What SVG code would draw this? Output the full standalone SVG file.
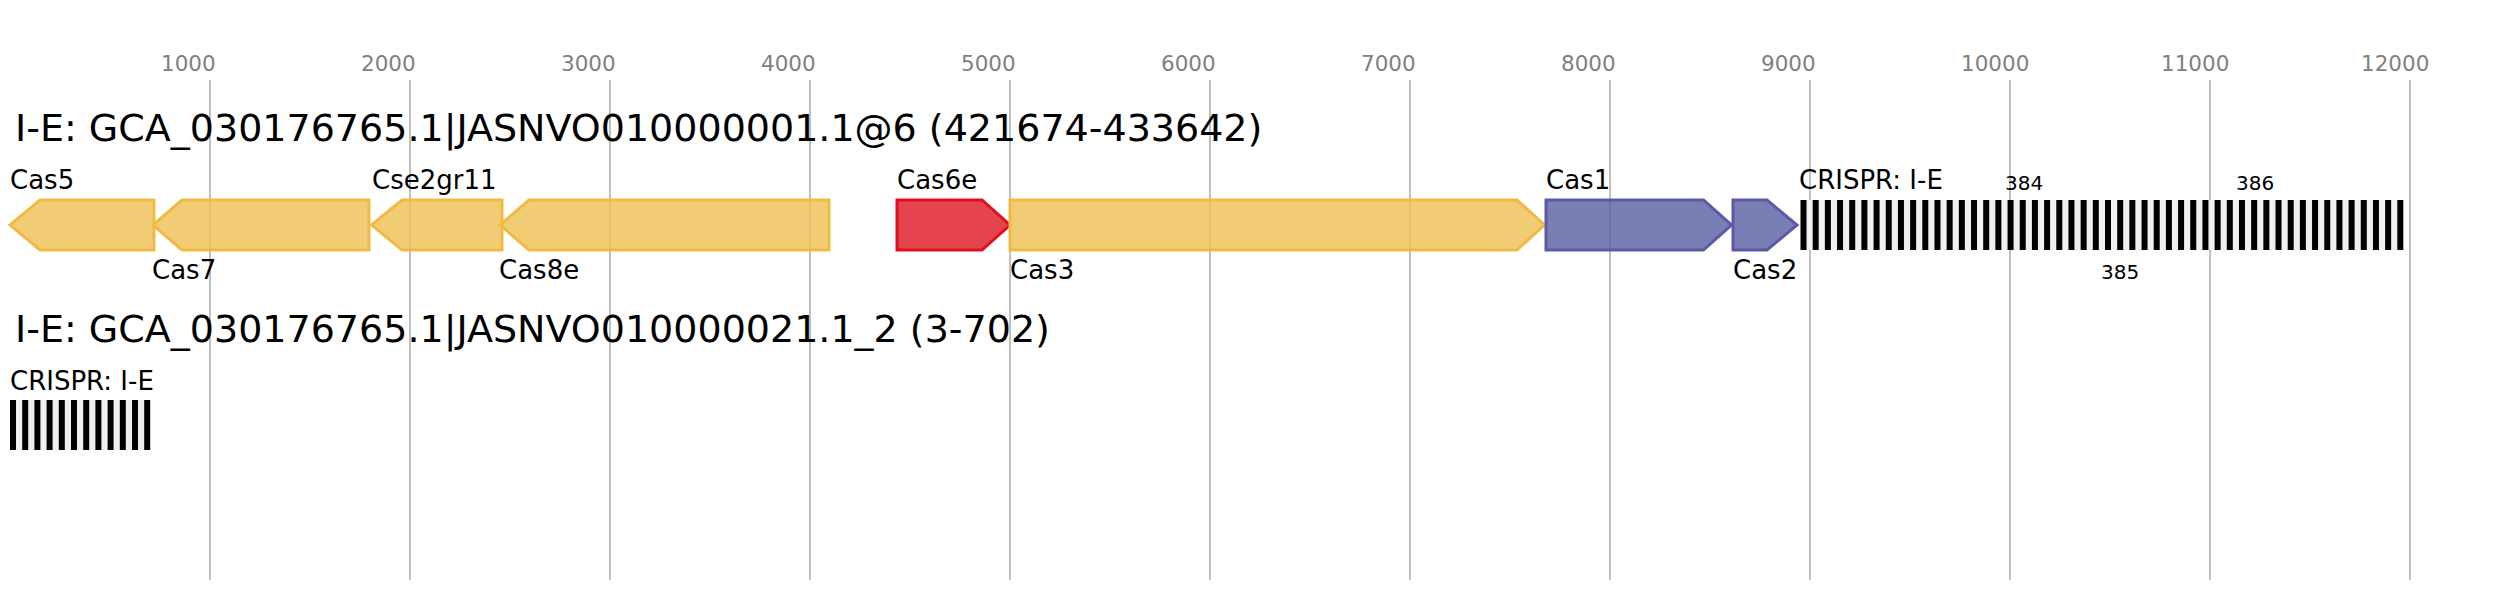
<svg xmlns="http://www.w3.org/2000/svg" width="2494" height="600" viewBox="0 0 2494 600">
<style>
text{font-family:"DejaVu Sans","Liberation Sans",sans-serif;fill:#000}
.tick{font-size:21.5px;fill:#808080}
.title{font-size:38px}
.lbl{font-size:26px}
.num{font-size:20px}
.grid{stroke:#c0c0c0;stroke-width:2}
.y{fill:#EEBF52;fill-opacity:0.8;stroke:#EEBB45;stroke-width:3}
.r{fill:#DF1523;fill-opacity:0.8;stroke:#E0101E;stroke-width:3}
.b{fill:#5A5CA2;fill-opacity:0.8;stroke:#5A5AA5;stroke-width:3}
.sp{fill:#f0f0f0}
.rp{fill:#000}
</style>
<rect width="2494" height="600" fill="#fff"/>
<g id="axis">
<g class="grid">
<line x1="210" y1="80" x2="210" y2="580"/>
<line x1="410" y1="80" x2="410" y2="580"/>
<line x1="610" y1="80" x2="610" y2="580"/>
<line x1="810" y1="80" x2="810" y2="580"/>
<line x1="1010" y1="80" x2="1010" y2="580"/>
<line x1="1210" y1="80" x2="1210" y2="580"/>
<line x1="1410" y1="80" x2="1410" y2="580"/>
<line x1="1610" y1="80" x2="1610" y2="580"/>
<line x1="1810" y1="80" x2="1810" y2="580"/>
<line x1="2010" y1="80" x2="2010" y2="580"/>
<line x1="2210" y1="80" x2="2210" y2="580"/>
<line x1="2410" y1="80" x2="2410" y2="580"/>
</g>
<text class="tick" x="161" y="70.5">1000</text>
<text class="tick" x="361" y="70.5">2000</text>
<text class="tick" x="561" y="70.5">3000</text>
<text class="tick" x="761" y="70.5">4000</text>
<text class="tick" x="961" y="70.5">5000</text>
<text class="tick" x="1161" y="70.5">6000</text>
<text class="tick" x="1361" y="70.5">7000</text>
<text class="tick" x="1561" y="70.5">8000</text>
<text class="tick" x="1761" y="70.5">9000</text>
<text class="tick" x="1961" y="70.5">10000</text>
<text class="tick" x="2161" y="70.5">11000</text>
<text class="tick" x="2361" y="70.5">12000</text>
</g>
<text id="title1" class="title" x="15" y="140.5">I-E: GCA_030176765.1|JASNVO010000001.1@6 (421674-433642)</text>
<text id="title2" class="title" x="15" y="341.5">I-E: GCA_030176765.1|JASNVO010000021.1_2 (3-702)</text>
<g id="cas5"><polygon class="y" points="10,225 40,200 154,200 154,250 40,250"/><text class="lbl" x="10" y="189">Cas5</text></g>
<g id="cas7"><polygon class="y" points="153,225 182,200 369,200 369,250 182,250"/><text class="lbl" x="152" y="279">Cas7</text></g>
<g id="cse2gr11"><polygon class="y" points="371.5,225 402,200 502,200 502,250 402,250"/><text class="lbl" x="372" y="189">Cse2gr11</text></g>
<g id="cas8e"><polygon class="y" points="500,225 529,200 829,200 829,250 529,250"/><text class="lbl" x="499" y="279">Cas8e</text></g>
<g id="cas6e"><polygon class="r" points="897,200 982,200 1010,225 982,250 897,250"/><text class="lbl" x="897" y="189">Cas6e</text></g>
<g id="cas3"><polygon class="y" points="1010,200 1517,200 1544.5,225 1517,250 1010,250"/><text class="lbl" x="1010" y="279">Cas3</text></g>
<g id="cas1"><polygon class="b" points="1546,200 1703.5,200 1731.5,225 1703.5,250 1546,250"/><text class="lbl" x="1546" y="189">Cas1</text></g>
<g id="cas2"><polygon class="b" points="1733,200 1767,200 1797,225 1767,250 1733,250"/><text class="lbl" x="1733" y="279">Cas2</text></g>
<g id="crispr1">
<text class="lbl" x="1799" y="189">CRISPR: I-E</text>
<rect class="sp" x="1800.5" y="200" width="602.8" height="50"/>
<g class="rp">
<rect x="1800.5" y="200" width="6" height="50"/><rect x="1812.68" y="200" width="6" height="50"/><rect x="1824.86" y="200" width="6" height="50"/><rect x="1837.04" y="200" width="6" height="50"/><rect x="1849.22" y="200" width="6" height="50"/>
<rect x="1861.4" y="200" width="6" height="50"/><rect x="1873.58" y="200" width="6" height="50"/><rect x="1885.76" y="200" width="6" height="50"/><rect x="1897.94" y="200" width="6" height="50"/><rect x="1910.12" y="200" width="6" height="50"/>
<rect x="1922.3" y="200" width="6" height="50"/><rect x="1934.48" y="200" width="6" height="50"/><rect x="1946.66" y="200" width="6" height="50"/><rect x="1958.84" y="200" width="6" height="50"/><rect x="1971.02" y="200" width="6" height="50"/>
<rect x="1983.2" y="200" width="6" height="50"/><rect x="1995.38" y="200" width="6" height="50"/><rect x="2007.56" y="200" width="6" height="50"/><rect x="2019.74" y="200" width="6" height="50"/><rect x="2031.92" y="200" width="6" height="50"/>
<rect x="2044.1" y="200" width="6" height="50"/><rect x="2056.28" y="200" width="6" height="50"/><rect x="2068.46" y="200" width="6" height="50"/><rect x="2080.64" y="200" width="6" height="50"/><rect x="2092.82" y="200" width="6" height="50"/>
<rect x="2105" y="200" width="6" height="50"/><rect x="2117.18" y="200" width="6" height="50"/><rect x="2129.36" y="200" width="6" height="50"/><rect x="2141.54" y="200" width="6" height="50"/><rect x="2153.72" y="200" width="6" height="50"/>
<rect x="2165.9" y="200" width="6" height="50"/><rect x="2178.08" y="200" width="6" height="50"/><rect x="2190.26" y="200" width="6" height="50"/><rect x="2202.44" y="200" width="6" height="50"/><rect x="2214.62" y="200" width="6" height="50"/>
<rect x="2226.8" y="200" width="6" height="50"/><rect x="2238.98" y="200" width="6" height="50"/><rect x="2251.16" y="200" width="6" height="50"/><rect x="2263.34" y="200" width="6" height="50"/><rect x="2275.52" y="200" width="6" height="50"/>
<rect x="2287.7" y="200" width="6" height="50"/><rect x="2299.88" y="200" width="6" height="50"/><rect x="2312.06" y="200" width="6" height="50"/><rect x="2324.24" y="200" width="6" height="50"/><rect x="2336.42" y="200" width="6" height="50"/>
<rect x="2348.6" y="200" width="6" height="50"/><rect x="2360.78" y="200" width="6" height="50"/><rect x="2372.96" y="200" width="6" height="50"/><rect x="2385.14" y="200" width="6" height="50"/><rect x="2397.32" y="200" width="6" height="50"/>
</g>
<text class="num" x="2005" y="190">384</text>
<text class="num" x="2101" y="279">385</text>
<text class="num" x="2236" y="190">386</text>
</g>
<g id="crispr2">
<text class="lbl" x="10" y="390">CRISPR: I-E</text>
<rect class="sp" x="10" y="400" width="140.2" height="50"/>
<g class="rp">
<rect x="10" y="400" width="6" height="50"/><rect x="22.2" y="400" width="6" height="50"/><rect x="34.4" y="400" width="6" height="50"/><rect x="46.6" y="400" width="6" height="50"/>
<rect x="58.8" y="400" width="6" height="50"/><rect x="71" y="400" width="6" height="50"/><rect x="83.2" y="400" width="6" height="50"/><rect x="95.4" y="400" width="6" height="50"/>
<rect x="107.6" y="400" width="6" height="50"/><rect x="119.8" y="400" width="6" height="50"/><rect x="132" y="400" width="6" height="50"/><rect x="144.2" y="400" width="6" height="50"/>
</g>
</g>
<g id="connectors"></g>
</svg>
